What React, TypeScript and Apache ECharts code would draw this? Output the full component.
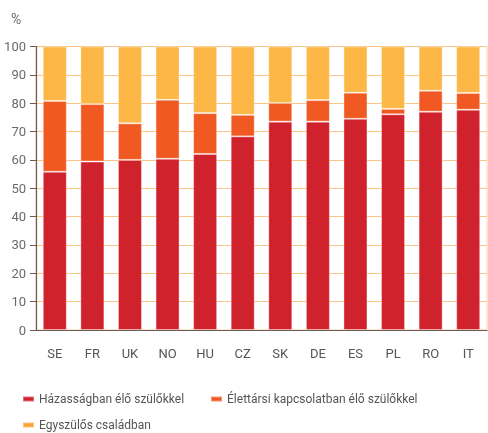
import React, { useEffect, useRef } from "react";
import * as echarts from "echarts";

const categories = ["SE", "FR", "UK", "NO", "HU", "CZ", "SK", "DE", "ES", "PL", "RO", "IT"];
const married = [55.8, 59.4, 60.0, 60.4, 62.1, 68.3, 73.5, 73.5, 74.5, 76.1, 77.0, 77.7];
const cohabiting = [25.0, 20.3, 12.9, 20.8, 14.4, 7.6, 6.6, 7.6, 9.2, 1.9, 7.4, 5.9];
const singleParent = [19.2, 20.3, 27.1, 18.8, 23.5, 24.1, 19.9, 18.9, 16.3, 22.0, 15.6, 16.4];
const seriesNames = [
  "Házasságban élő szülőkkel",
  "Élettársi kapcsolatban élő szülőkkel",
  "Egyszülős családban",
];
const yTicks = { min: 0, max: 100, interval: 10 };

const colors = ["#D0222D", "#F05A22", "#FCB746"];
const legendColors = ["#D0222D", "#F05A22", "#F9A33A"];

export default function App() {
  const ref = useRef<HTMLDivElement>(null);
  useEffect(() => {
    if (!ref.current) return;
    const chart = echarts.init(ref.current, undefined, { renderer: "svg" });
    const font = "Roboto, 'Noto Sans', sans-serif";
    const data = [married, cohabiting, singleParent];
    chart.setOption({
      animation: false,
      textStyle: { fontFamily: font },
      grid: {
        left: 36,
        right: 1,
        top: 46.5,
        bottom: 103,
        show: true,
        backgroundColor: "transparent",
        borderColor: "#FDCF9C",
        borderWidth: 1,
      },
      graphic: [
        {
          type: "text",
          left: 11,
          top: 12,
          style: { text: "%", fill: "#6a6a6a", fontSize: 14, fontFamily: font },
        },
      ],
      legend: [
        {
          data: [seriesNames[0], seriesNames[1]].map((n, i) => ({
            name: n,
            itemStyle: { color: legendColors[i] },
          })),
          left: 17,
          top: 388,
          itemWidth: 11,
          itemHeight: 5,
          itemGap: 26,
          icon: "rect",
          textStyle: { fontSize: 12, color: "#555", fontFamily: font },
        },
        {
          data: [{ name: seriesNames[2], itemStyle: { color: legendColors[2] } }],
          left: 17,
          top: 414,
          itemWidth: 11,
          itemHeight: 5,
          icon: "rect",
          textStyle: { fontSize: 12, color: "#555", fontFamily: font },
        },
      ],
      xAxis: {
        type: "category",
        data: categories,
        axisLine: { lineStyle: { color: "#6B5B52", width: 1.2 } },
        axisTick: { length: 5, lineStyle: { color: "#6B5B52" } },
        axisLabel: { color: "#555", fontSize: 13, margin: 17, fontFamily: font },
      },
      yAxis: {
        type: "value",
        min: yTicks.min,
        max: yTicks.max,
        interval: yTicks.interval,
        axisLine: { show: true, lineStyle: { color: "#6B5B52", width: 1.2 } },
        axisTick: { show: true, length: 6, lineStyle: { color: "#6B5B52" } },
        axisLabel: { color: "#6a6a6a", fontSize: 13, margin: 10, fontFamily: font },
        splitLine: { lineStyle: { color: "#FCC486", width: 1 } },
      },
      series: seriesNames.map((name, i) => ({
        name,
        type: "bar",
        stack: "total",
        barWidth: 24,
        data: data[i],
        itemStyle: {
          color: colors[i],
          borderColor: "rgba(255,255,255,0.35)",
          borderWidth: 1,
        },
        emphasis: { disabled: true },
      })),
    });
    return () => chart.dispose();
  }, []);
  return (
    <div
      ref={ref}
      style={{ position: "fixed", left: 0, top: 0, width: 488, height: 433 }}
    />
  );
}
